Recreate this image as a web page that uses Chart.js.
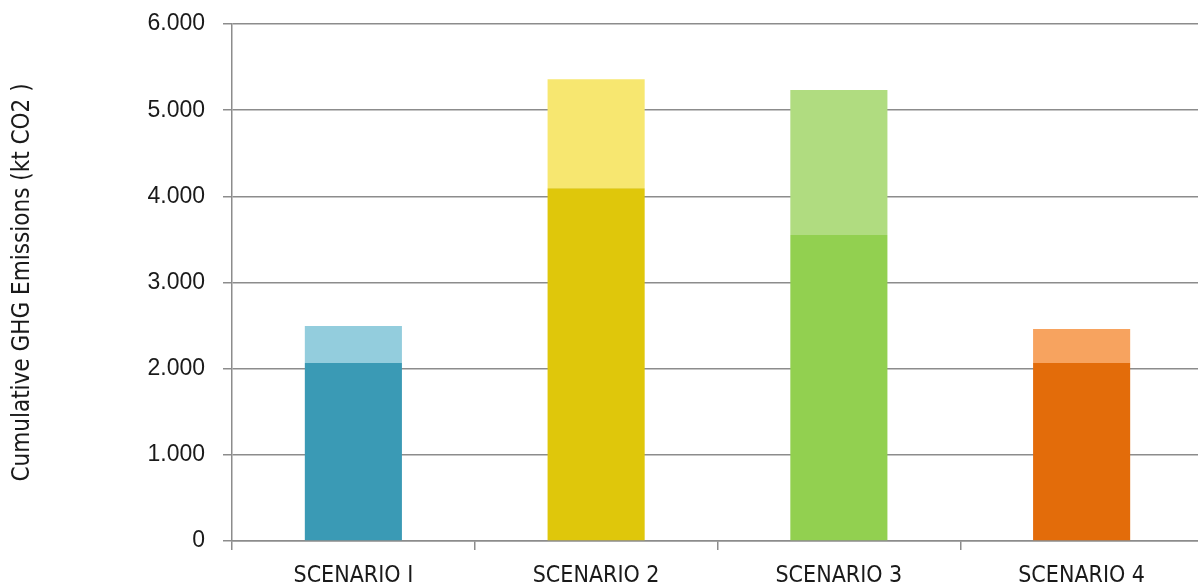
<!DOCTYPE html>
<html>
<head>
<meta charset="utf-8">
<script src="https://cdn.jsdelivr.net/npm/chart.js@4"></script>
<style>
  html, body { margin: 0; padding: 0; background: #fff; overflow: hidden; }
  #wrap { width: 1206px; height: 600px; }
</style>
</head>
<body>
<div id="wrap"><canvas id="ghgChart" width="1206" height="600"></canvas></div>
<script>
// Data (kt CO2)
const scenarios = ["SCENARIO I", "SCENARIO 2", "SCENARIO 3", "SCENARIO 4"];
const baseEmissions = [2065, 4095, 3550, 2065];
const extraEmissions = [430, 1265, 1685, 395];
const yTicks = [0, 1000, 2000, 3000, 4000, 5000, 6000];

const darkColors = ["#3a9ab5", "#dfc70b", "#92d050", "#e36c0a"];
const lightColors = ["#93cddd", "#f7e770", "#b0dc80", "#f7a35f"];

const gridGrey = "#8c8c8c";
const narrow = "'DejaVu Sans Condensed', 'Liberation Sans Narrow', sans-serif";

const fmt = (v) => v === 0 ? "0" : String(v).replace(/\B(?=(\d{3})+(?!\d))/g, ".");

const ctx = document.getElementById("ghgChart").getContext("2d");

new Chart(ctx, {
  type: "bar",
  data: {
    labels: scenarios,
    datasets: [
      { label: "base", data: baseEmissions, backgroundColor: darkColors, borderWidth: 0 },
      { label: "extra", data: extraEmissions, backgroundColor: lightColors, borderWidth: 0 }
    ]
  },
  options: {
    responsive: false,
    animation: false,
    layout: { padding: { top: 24, right: 3, left: 0, bottom: 0 } },
    plugins: { legend: { display: false }, tooltip: { enabled: false } },
    datasets: { bar: { categoryPercentage: 1, barPercentage: 0.4 } },
    scales: {
      x: {
        stacked: true,
        offset: true,
        grid: {
          offset: true,
          drawOnChartArea: false,
          drawTicks: true,
          tickLength: 9,
          color: gridGrey,
          lineWidth: 1.5
        },
        border: { color: gridGrey, width: 1.5 },
        ticks: {
          padding: 12,
          color: "#1a1a1a",
          font: { family: narrow, size: 23 },
          maxRotation: 0
        },
        afterFit: (scale) => { scale.height = 59; }
      },
      y: {
        stacked: true,
        min: 0,
        max: 6000,
        afterBuildTicks: (scale) => { scale.ticks = yTicks.map(v => ({ value: v })); },
        grid: { color: gridGrey, lineWidth: 1.5, tickLength: 9 },
        border: { color: gridGrey, width: 1.5 },
        ticks: {
          padding: 18,
          color: "#1a1a1a",
          font: { family: "'Liberation Sans', Arial, sans-serif", size: 23 },
          callback: (v) => fmt(v)
        },
        title: {
          display: true,
          text: "Cumulative GHG Emissions (kt CO2 )",
          color: "#1a1a1a",
          font: { family: narrow, size: 24 },
          padding: { top: 8, bottom: 0 }
        },
        afterFit: (scale) => {
          scale.width = 232;
          scale.paddingTop = 0;
          scale.paddingBottom = 0;
        }
      }
    }
  }
});
</script>
</body>
</html>
